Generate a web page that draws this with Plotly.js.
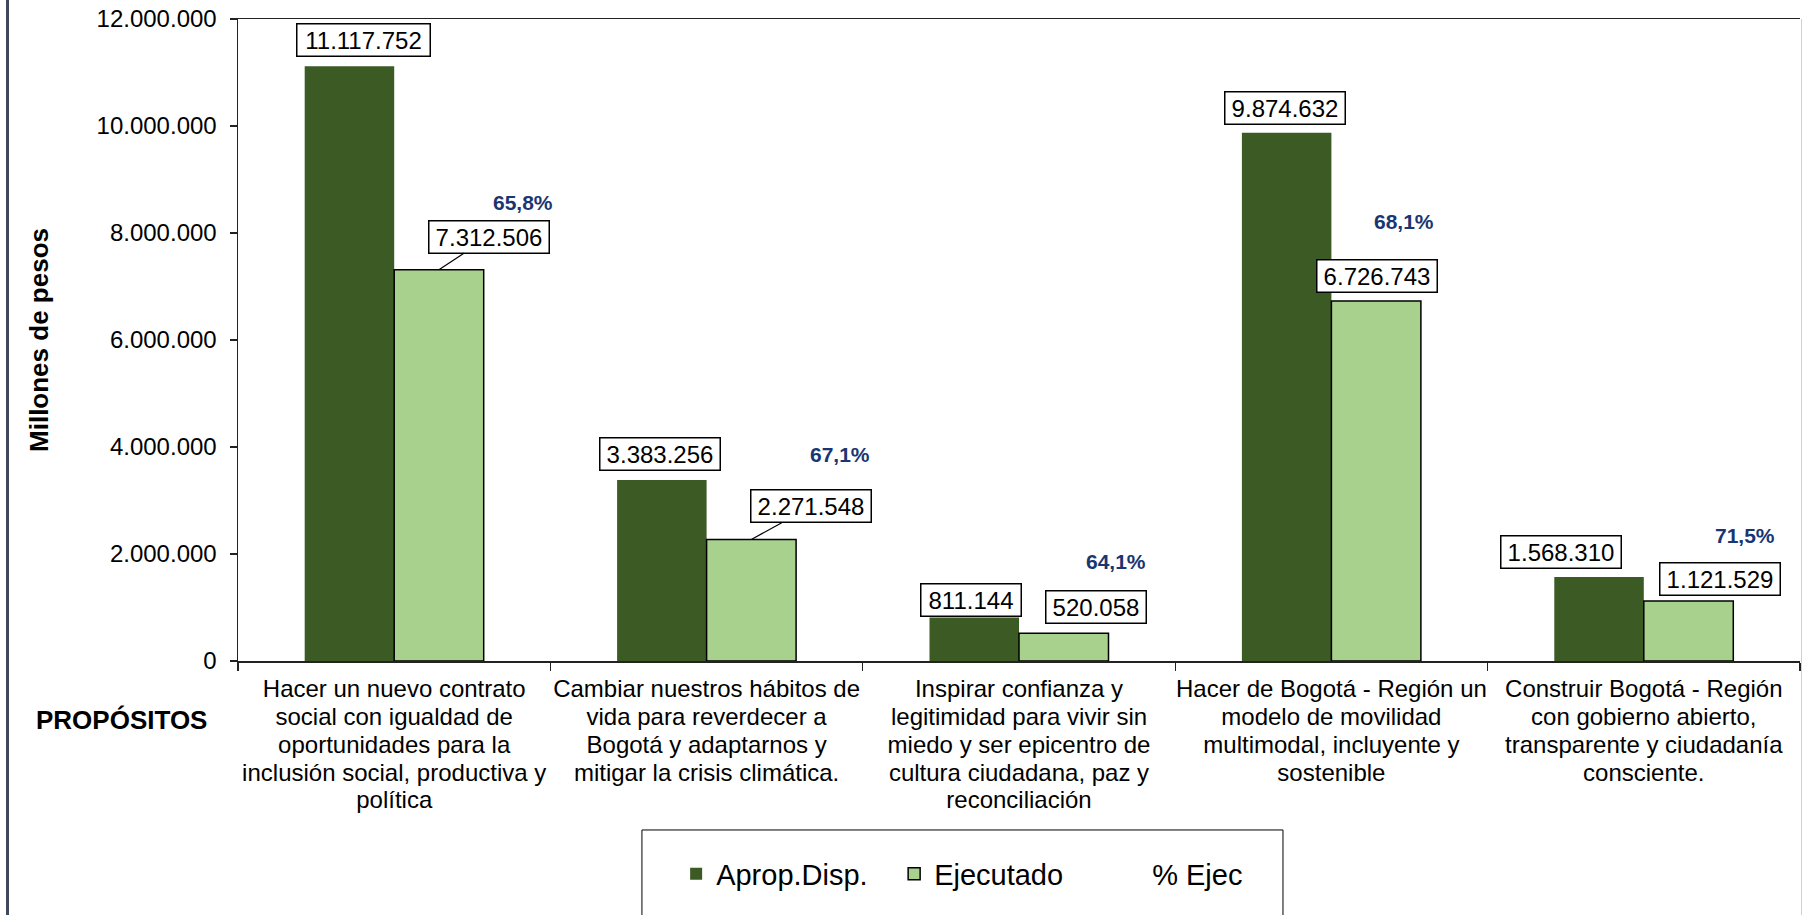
<!DOCTYPE html>
<html><head><meta charset="utf-8">
<script src="https://cdn.plot.ly/plotly-3.0.1.min.js"></script>
<style>
html,body{margin:0;padding:0;background:#fff;}
#chart{width:1803px;height:915px;}
#edge{position:absolute;left:6px;top:0;width:3px;height:915px;background:#3f4959;}
#redge{position:absolute;left:1801px;top:19px;width:1px;height:896px;background:#d0d0d0;}
</style>
</head><body>
<div id="chart"></div><div id="edge"></div><div id="redge"></div>
<script>
// ---------- data ----------
const categories = [
  "Hacer un nuevo contrato<br>social con igualdad de<br>oportunidades para la<br>inclusión social, productiva y<br>política",
  "Cambiar nuestros hábitos de<br>vida para reverdecer a<br>Bogotá y adaptarnos y<br>mitigar la crisis climática.",
  "Inspirar confianza y<br>legitimidad para vivir sin<br>miedo y ser epicentro de<br>cultura ciudadana, paz y<br>reconciliación",
  "Hacer de Bogotá - Región un<br>modelo de movilidad<br>multimodal, incluyente y<br>sostenible",
  "Construir Bogotá - Región<br>con gobierno abierto,<br>transparente y ciudadanía<br>consciente."
];
const aprop = [11117752, 3383256, 811144, 9874632, 1568310];
const ejecutado = [7312506, 2271548, 520058, 6726743, 1121529];
const pctEjec = [65.8, 67.1, 64.1, 68.1, 71.5];
const yTickVals = [0, 2000000, 4000000, 6000000, 8000000, 10000000, 12000000];
const seriesNames = ["Aprop.Disp.", "Ejecutado", "% Ejec"];

// ---------- styling (offsets in px) ----------
const FONT = "Arial, 'Liberation Sans', sans-serif";
const DARK = "#3b5a24", LIGHT = "#a9d18e", PCTCOL = "#1a3672";
const half = 44.7;
const apropOff = [[14,26],[-2,26],[-3,18],[-2,25],[-38,25]];
const ejecOff  = [[50,33,true],[60,33,true],[32,26,false],[1,25,false],[31,22,false]];
const pctOff   = [[84,67],[89,85],[52,72],[28,80],[56,66]];

function fmt(v){ return String(v).replace(/\B(?=(\d{3})+(?!\d))/g, "."); }
function boxW(s){ let w=0; for(const c of s){ w += (c==='.'?6.67:13.35); } return Math.round(w+8); }
function pctTxt(p){ return p.toFixed(1).replace('.', ',') + '%'; }

const data = [
  {type:'bar', name:seriesNames[0], x:categories, y:aprop,
   marker:{color:DARK, line:{color:DARK, width:0}}, hoverinfo:'skip'},
  {type:'bar', name:seriesNames[1], x:categories, y:ejecutado,
   marker:{color:LIGHT, line:{color:'#000', width:1.5}}, hoverinfo:'skip'},
  {type:'scatter', mode:'lines', name:seriesNames[2], x:categories, y:pctEjec, yaxis:'y2',
   line:{color:'rgba(0,0,0,0)', width:0}, hoverinfo:'skip'}
];

const annotations = [];
categories.forEach((c,i)=>{
  const ta = fmt(aprop[i]);
  annotations.push({x:c, y:aprop[i], xref:'x', yref:'y', text:ta, showarrow:false,
    xshift:-half+apropOff[i][0], yshift:apropOff[i][1],
    font:{family:FONT,size:24,color:'#000'}, bgcolor:'#fff', bordercolor:'#000',
    borderwidth:1.5, borderpad:2, width:boxW(ta)});
  const te = fmt(ejecutado[i]);
  const o = ejecOff[i];
  if(o[2]){
    annotations.push({x:c, y:ejecutado[i], xref:'x', yref:'y', text:te, showarrow:true,
      arrowhead:0, arrowwidth:1.2, arrowcolor:'#000', ax:o[0], ay:-o[1], standoff:0,
      xshift:half, font:{family:FONT,size:24,color:'#000'}, bgcolor:'#fff',
      bordercolor:'#000', borderwidth:1.5, borderpad:2, width:boxW(te)});
  } else {
    annotations.push({x:c, y:ejecutado[i], xref:'x', yref:'y', text:te, showarrow:false,
      xshift:half+o[0], yshift:o[1], font:{family:FONT,size:24,color:'#000'}, bgcolor:'#fff',
      bordercolor:'#000', borderwidth:1.5, borderpad:2, width:boxW(te)});
  }
  annotations.push({x:c, y:ejecutado[i], xref:'x', yref:'y', text:pctTxt(pctEjec[i]), showarrow:false,
    xshift:half+pctOff[i][0], yshift:pctOff[i][1],
    font:{family:FONT,size:21,color:PCTCOL,weight:'bold'}});
});
annotations.push({xref:'paper', yref:'paper', x:-0.0749, y:-0.092, xanchor:'center', yanchor:'middle',
  text:'PROPÓSITOS', showarrow:false, font:{family:FONT,size:26,color:'#000',weight:'bold'}});

const layout = {
  width:1803, height:915,
  margin:{l:238, r:3, t:19, b:254, pad:0},
  paper_bgcolor:'#fff', plot_bgcolor:'#fff',
  separators:',.',
  font:{family:FONT, color:'#000', size:24},
  barmode:'group', bargap:0.427, bargroupgap:0,
  showlegend:true,
  legend:{orientation:'h', x:0.2805, xanchor:'left', y:-0.3318, yanchor:'middle',
    font:{family:FONT,size:29,color:'#000'}, bgcolor:'rgba(0,0,0,0)', borderwidth:0,
    entrywidth:173, traceorder:'normal'},
  xaxis:{type:'category', showline:true, linecolor:'#222', linewidth:1.5, mirror:true,
    ticks:'outside', ticklen:8, tickwidth:1.2, tickcolor:'#222', tickson:'boundaries',
    tickangle:0, showgrid:false, zeroline:false, ticklabelstandoff:6,
    tickfont:{family:FONT,size:24,color:'#000'}, fixedrange:true},
  yaxis:{range:[0,12000000], tickmode:'array', tickvals:yTickVals, tickformat:',d',
    showline:true, linecolor:'#222', linewidth:1.5, ticks:'outside', ticklen:7, tickwidth:1.2,
    tickcolor:'#222', showgrid:false, zeroline:false, ticklabelstandoff:8,
    tickfont:{family:FONT,size:24,color:'#000'},
    title:{text:'Millones de pesos', standoff:40, font:{family:FONT,size:26,color:'#000',weight:'bold'}},
    fixedrange:true},
  yaxis2:{overlaying:'y', side:'right', range:[0,100], visible:false, fixedrange:true},
  annotations:annotations,
  shapes:[{type:'rect', xref:'paper', yref:'paper', x0:0.2586, x1:0.669, y0:-0.2632, y1:-0.44,
    line:{color:'#000', width:1}, fillcolor:'rgba(0,0,0,0)', layer:'below'}]
};

Plotly.newPlot('chart', data, layout, {displayModeBar:false, staticPlot:true}).then(gd=>{
  gd.querySelectorAll('.xtick text tspan.line').forEach(t=>{
    const dy = parseFloat(t.getAttribute('dy'));
    if(!isNaN(dy)) t.setAttribute('dy', (dy*0.89).toFixed(3)+'em');
  });
});
</script>
</body></html>
